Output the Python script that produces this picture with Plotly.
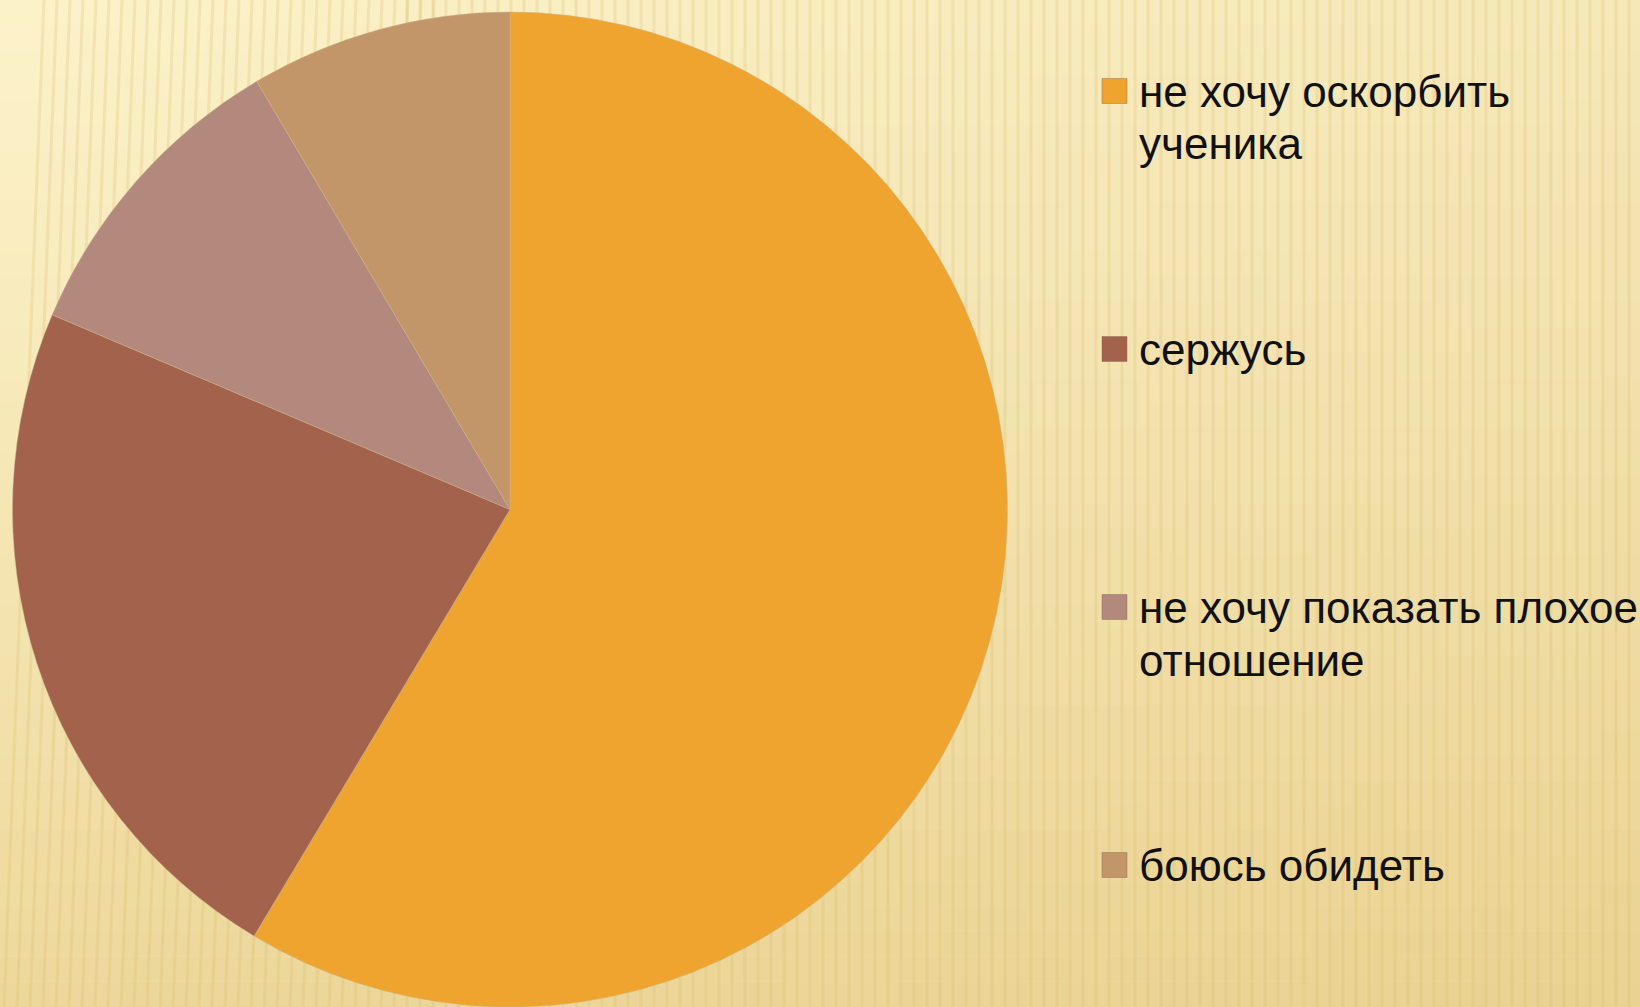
import plotly.graph_objects as go

# ---- data ----
labels = ["не хочу оскорбить ученика", "сержусь", "не хочу показать плохое отношение", "боюсь обидеть"]
legend_lines = [["не хочу оскорбить", "ученика"], ["сержусь"], ["не хочу показать плохое", "отношение"], ["боюсь обидеть"]]
values = [58.6, 22.8, 10.1, 8.5]
colors = ["#F0A430", "#A3624B", "#B3897D", "#C3966A"]

W, H = 1640, 1007

fig = go.Figure()
fig.add_trace(go.Pie(
    labels=labels,
    values=values,
    sort=False,
    direction="clockwise",
    rotation=0,
    textinfo="none",
    marker=dict(colors=colors, line=dict(color="rgba(200,180,140,0.6)", width=0.8)),
    domain=dict(x=[12 / W, 1008 / W], y=[0.0, (H - 12) / H]),
    showlegend=False,
    hoverinfo="label+percent",
))

shapes = []
# background gradient (decoration)
N = 40
for i in range(N):
    y0 = i / N
    y1 = (i + 1) / N
    op = 0.42 * (1 - (i + 0.5) / N) ** 1.2
    shapes.append(dict(type="rect", xref="paper", yref="paper", x0=0, x1=1, y0=y0, y1=y1,
                       fillcolor="#D9B45C", opacity=op, line=dict(width=0), layer="below"))
for i in range(N):
    x0 = i / N
    x1 = (i + 1) / N
    op = 0.16 * ((i + 0.5) / N)
    shapes.append(dict(type="rect", xref="paper", yref="paper", x0=x0, x1=x1, y0=0, y1=1,
                       fillcolor="#D9B45C", opacity=op, line=dict(width=0), layer="below"))
# faint stripes
step = 13
x = 4
while x < W:
    shapes.append(dict(type="line", xref="paper", yref="paper",
                       x0=x / W, x1=(x + (40 if x < 400 else 0)) / W, y0=0, y1=1,
                       line=dict(color="#D7B866", width=3), opacity=0.22, layer="below"))
    x += step

# legend (manual, matches reference placement)
annotations = []
first_y = 91
gap = 258
line_h = 53
for i, (lines, col) in enumerate(zip(legend_lines, colors)):
    yc = first_y + gap * i
    shapes.append(dict(type="rect", xref="paper", yref="paper",
                       x0=1102 / W, x1=1127 / W,
                       y0=1 - (yc + 12.5) / H, y1=1 - (yc - 12.5) / H,
                       fillcolor=col, line=dict(color="rgba(120,100,80,0.5)", width=0.8)))
    for j, txt in enumerate(lines):
        annotations.append(dict(xref="paper", yref="paper", x=1137 / W, y=1 - (yc + j * line_h) / H,
                                xanchor="left", yanchor="middle", align="left", showarrow=False,
                                text=txt, font=dict(family="Liberation Sans, Arial, sans-serif",
                                                    size=44, color="#111111")))

fig.update_layout(
    width=W, height=H,
    margin=dict(l=0, r=0, t=0, b=0),
    paper_bgcolor="#FCF2CA",
    plot_bgcolor="rgba(0,0,0,0)",
    shapes=shapes,
    annotations=annotations,
    showlegend=False,
)

fig.write_html("out.html", config={"displayModeBar": False},
               post_script="document.body.style.margin='0';document.body.style.overflow='hidden';")
